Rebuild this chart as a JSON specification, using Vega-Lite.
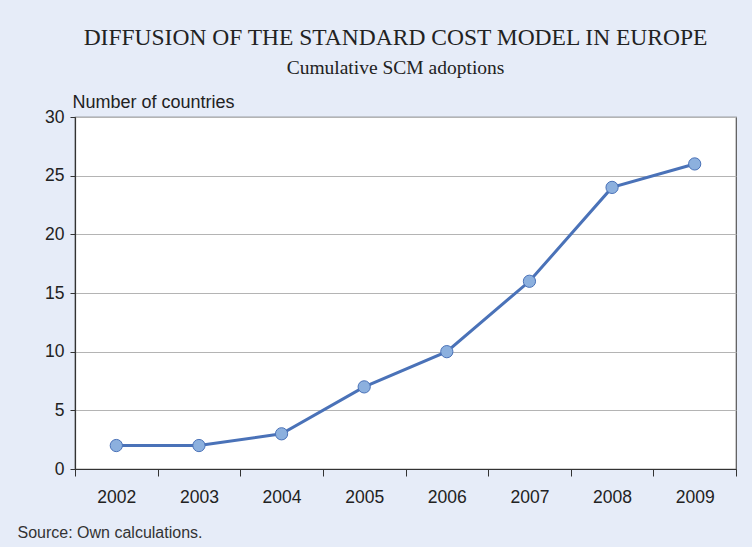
{
  "$schema": "https://vega.github.io/schema/vega-lite/v6.json",
  "autosize": "none",
  "width": 661,
  "height": 352,
  "padding": {"left": 75, "top": 117, "right": 16, "bottom": 78},
  "background": "#e6ecf8",
  "title": {
    "text": "DIFFUSION OF THE STANDARD COST MODEL IN EUROPE",
    "subtitle": "Cumulative SCM adoptions",
    "font": "Liberation Serif",
    "fontSize": 23.5,
    "fontWeight": "normal",
    "color": "#222222",
    "subtitleFont": "Liberation Serif",
    "subtitleFontSize": 19.5,
    "subtitleColor": "#222222",
    "subtitlePadding": 9,
    "anchor": "middle",
    "frame": "group",
    "offset": 16,
    "dx": -10
  },
  "data": {
    "values": [
      {"year": "2002", "countries": 2},
      {"year": "2003", "countries": 2},
      {"year": "2004", "countries": 3},
      {"year": "2005", "countries": 7},
      {"year": "2006", "countries": 10},
      {"year": "2007", "countries": 16},
      {"year": "2008", "countries": 24},
      {"year": "2009", "countries": 26}
    ]
  },
  "config": {
    "view": {"fill": "white", "stroke": "#555555", "strokeWidth": 1.2},
    "font": "Liberation Sans"
  },
  "encoding": {
    "x": {
      "field": "year",
      "type": "ordinal",
      "scale": {"paddingInner": 0, "paddingOuter": 0},
      "axis": {
        "title": "Source: Own calculations.",
        "titleFont": "Liberation Sans",
        "titleFontSize": 16,
        "titleFontWeight": "normal",
        "titleColor": "#333333",
        "titleAnchor": "start",
        "titleAlign": "left",
        "titleBaseline": "alphabetic",
        "titleX": -58,
        "titleY": 68,
        "labelAngle": 0,
        "labelFontSize": 17.5,
        "labelColor": "#222222",
        "labelPadding": 12,
        "tickBand": "extent",
        "tickSize": 7,
        "tickColor": "#333333",
        "domainColor": "#333333",
        "domainWidth": 1.2,
        "grid": false
      }
    },
    "y": {
      "field": "countries",
      "type": "quantitative",
      "scale": {"domain": [0, 30]},
      "axis": {
        "values": [0, 5, 10, 15, 20, 25, 30],
        "title": "Number of countries",
        "titleFont": "Liberation Sans",
        "titleFontSize": 18,
        "titleFontWeight": "normal",
        "titleColor": "#222222",
        "titleAngle": 0,
        "titleAlign": "left",
        "titleBaseline": "alphabetic",
        "titleX": -3,
        "titleY": -10,
        "labelFontSize": 17.5,
        "labelColor": "#222222",
        "labelPadding": 6,
        "tickSize": 5,
        "tickColor": "#333333",
        "domainColor": "#333333",
        "domainWidth": 1.2,
        "gridColor": "#b4b4b4",
        "gridWidth": 1
      }
    }
  },
  "layer": [
    {"mark": {"type": "line", "color": "#4a72b8", "strokeWidth": 3}},
    {"mark": {"type": "point", "filled": true, "fill": "#8cb0de", "stroke": "#4a72b8", "strokeWidth": 1, "size": 150, "opacity": 1}}
  ]
}
